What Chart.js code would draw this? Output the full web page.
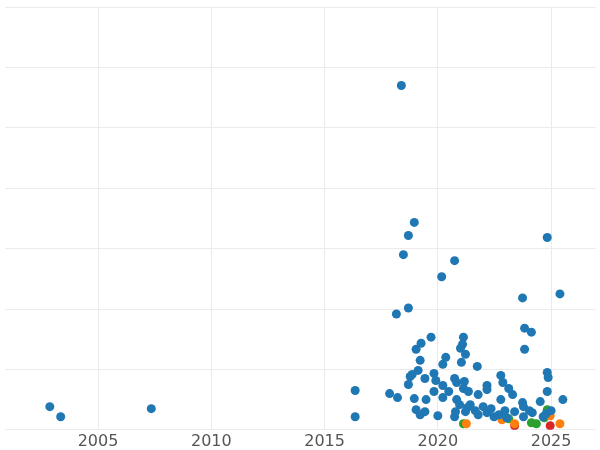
<!DOCTYPE html>
<html>
<head>
<script src="https://cdn.jsdelivr.net/npm/chart.js@4"></script>
<style>
  body { margin: 0; background: #fff; }
  #wrap { width: 600px; height: 450px; }
</style>
</head>
<body>
<div id="wrap"><canvas id="myChart"></canvas></div>
<script>
// blue series
const blueYears = [2002.87, 2003.35, 2007.35, 2016.35, 2016.35, 2018.39, 2018.96, 2018.70, 2018.48, 2020.74,
  2020.17, 2024.83, 2025.39, 2023.74, 2018.70, 2018.17, 2023.83, 2024.13, 2023.83, 2019.70,
  2019.04, 2019.26, 2021.13, 2021.09, 2021.00, 2021.22, 2020.35, 2021.04, 2021.74, 2019.22,
  2020.22, 2024.83, 2024.87, 2017.87, 2018.22, 2018.78, 2018.87, 2019.13, 2018.70, 2019.43,
  2019.83, 2019.91, 2020.22, 2020.48, 2020.74, 2020.83, 2021.17, 2021.13, 2021.35, 2021.78,
  2022.17, 2022.17, 2022.78, 2022.87, 2023.13, 2023.30, 2022.78, 2023.74, 2023.78, 2024.52,
  2024.83, 2025.52, 2018.96, 2019.04, 2019.22, 2019.43, 2019.48, 2020.00, 2019.83, 2020.22,
  2020.74, 2020.78, 2020.83, 2020.96, 2021.22, 2021.30, 2021.43, 2021.65, 2021.78, 2022.00,
  2022.17, 2022.35, 2022.48, 2022.70, 2022.96, 2023.04, 2023.39, 2023.78, 2024.04, 2024.17,
  2024.65, 2024.78, 2025.00];
const blueValues = [23, 13, 21, 39, 13, 342, 206, 193, 174, 168,
  152, 191, 135, 131, 121, 115, 101, 97, 80, 92,
  80, 86, 92, 85, 81, 75, 72, 67, 63, 69,
  65, 57, 52, 36, 32, 53, 55, 59, 45, 51,
  56, 49, 44, 38, 51, 47, 48, 41, 38, 35,
  44, 40, 54, 47, 41, 35, 30, 27, 23, 28,
  38, 30, 31, 20, 15, 18, 30, 14, 38, 32,
  13, 18, 30, 25, 18, 22, 25, 19, 15, 23,
  17, 21, 13, 15, 19, 12, 18, 13, 19, 17,
  13, 16, 19];
const orangeYears = [2021.26, 2022.83, 2023.39, 2025.39, 2024.96];
const orangeValues = [6, 10, 6, 6, 14];
const greenYears = [2021.13, 2023.13, 2024.13, 2024.35, 2024.83, 2024.70];
const greenValues = [6, 11, 7, 6, 20, 12];
const redYears = [2023.39, 2024.96];
const redValues = [4, 4];
const yearTicks = [2005, 2010, 2015, 2020, 2025];

const toPoints = (xs, ys) => xs.map((x, i) => ({ x: x, y: ys[i] }));

const ctx = document.getElementById("myChart");
new Chart(ctx, {
  type: "scatter",
  data: {
    datasets: [
      { data: toPoints(blueYears, blueValues), backgroundColor: "#1f77b4" },
      { data: toPoints(orangeYears, orangeValues), backgroundColor: "#ff7f0e" },
      { data: toPoints(greenYears, greenValues), backgroundColor: "#2ca02c" },
      { data: toPoints(redYears, redValues), backgroundColor: "#d62728" },
    ],
  },
  options: {
    responsive: true,
    maintainAspectRatio: false,
    animation: false,
    layout: { padding: { top: 7, left: 0, right: 0, bottom: -3 } },
    elements: { point: { radius: 4.5, borderWidth: 0 } },
    plugins: { legend: { display: false }, tooltip: { enabled: false } },
    scales: {
      x: {
        type: "linear",
        min: 2000.87,
        max: 2026.96,
        afterBuildTicks: (axis) => {
          axis.ticks = yearTicks.map((v) => ({ value: v }));
        },
        ticks: {
          color: "#555",
          font: { size: 16, family: "DejaVu Sans" },
          padding: 2,
          callback: (v) => String(v),
        },
        grid: { color: "#ebebeb", drawTicks: false },
        border: { display: false },
      },
      y: {
        min: 0,
        max: 420,
        afterFit: (axis) => { axis.width = 0; },
        ticks: { display: false, stepSize: 60 },
        grid: { color: "#ebebeb", drawTicks: false },
        border: { display: false },
      },
    },
  },
});
</script>
</body>
</html>
